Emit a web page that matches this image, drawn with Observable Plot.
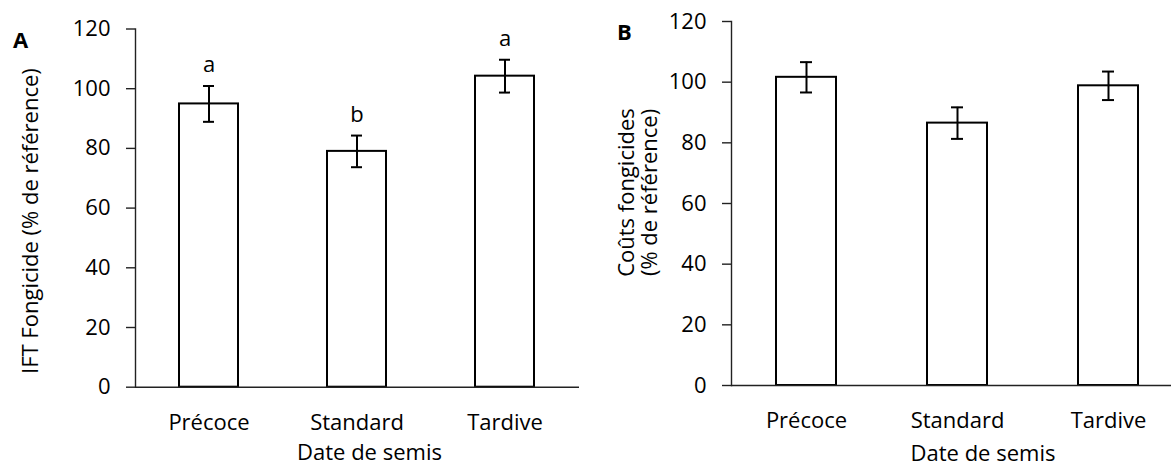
<!DOCTYPE html>
<html><head><meta charset="utf-8">
<script src="https://cdn.jsdelivr.net/npm/d3@7"></script>
<script src="https://cdn.jsdelivr.net/npm/@observablehq/plot@0.6"></script>
<style>
html,body{margin:0;padding:0;background:#fff;overflow:hidden;width:1171px;height:466px;position:relative;}
#a,#b{position:absolute;top:0;}
#a{left:0;} #b{left:585px;}
</style></head><body>
<div id="a"></div><div id="b"></div>
<script>
const categories = ["Précoce", "Standard", "Tardive"];
const iftMean = [94.9, 79.0, 104.2];
const iftErr = [6.0, 5.3, 5.5];
const iftLetters = ["a", "b", "a"];
const coutMean = [101.6, 86.5, 98.8];
const coutErr = [5.0, 5.2, 4.7];
const yTicks = [0, 20, 40, 60, 80, 100, 120];
const xTitle = "Date de semis";
const yTitleA = "IFT Fongicide (% de référence)";
const yTitleB = "Coûts fongicides\n(% de référence)";

const FONT = "'Open Sans', sans-serif";

function panel({means, errs, letters, tag, yTitle, width, mL, mT, mB, tagDx, tagDy, ytDx, ytDy, xtDx, xtDy}) {
  const data = categories.map((c, i) => ({cat: c, v: means[i], e: errs[i], l: letters ? letters[i] : ""}));
  const marks = [
    Plot.barY(data, {x: "cat", y: "v", fill: "white", stroke: "black", strokeWidth: 2}),
    Plot.ruleX(data, {x: "cat", y1: d => d.v - d.e, y2: d => d.v + d.e, stroke: "black", strokeWidth: 2}),
    Plot.tickY(data, {x: "cat", y: d => d.v + d.e, stroke: "black", strokeWidth: 2, insetLeft: 24, insetRight: 24}),
    Plot.tickY(data, {x: "cat", y: d => d.v - d.e, stroke: "black", strokeWidth: 2, insetLeft: 24, insetRight: 24}),
    Plot.ruleY([0], {stroke: "#222", strokeWidth: 1.4}),
    Plot.frame({anchor: "left", stroke: "#222", strokeWidth: 1.4}),
    Plot.axisY(yTicks, {tickSize: 9, tickPadding: 16, fontSize: 22, label: null, stroke: "#222", strokeWidth: 1.4}),
    Plot.axisX({tickSize: 0, tickPadding: 27, fontSize: 22, label: null}),
    Plot.text([xTitle], {frameAnchor: "bottom", textAnchor: "middle", lineAnchor: "bottom", dx: xtDx, dy: xtDy, fontSize: 22, fill: "black"}),
    Plot.text([yTitle], {frameAnchor: "left", textAnchor: "middle", lineAnchor: "middle", rotate: -90, dx: ytDx, dy: ytDy, fontSize: 22, lineHeight: 1.05, fill: "black"}),
    Plot.text([tag], {frameAnchor: "top-left", textAnchor: "middle", lineAnchor: "middle", dx: tagDx, dy: tagDy, fontSize: 22, fontWeight: "bold", fill: "black"})
  ];
  if (letters) {
    marks.push(Plot.text(data, {x: "cat", y: d => d.v + d.e, text: "l", lineAnchor: "bottom", dy: -14, fontSize: 22, fill: "black"}));
  }
  return Plot.plot({
    width, height: 466,
    marginLeft: mL, marginRight: 1, marginTop: mT, marginBottom: mB,
    x: {domain: categories, paddingInner: 0.6, paddingOuter: 0.3, axis: null},
    y: {domain: [0, 120], axis: null},
    style: {fontFamily: FONT, fontSize: "22px", color: "#000", background: "transparent", overflow: "visible", maxWidth: "none"},
    marks
  });
}

document.getElementById("a").append(panel({
  means: iftMean, errs: iftErr, letters: iftLetters, tag: "A", yTitle: yTitleA,
  width: 580, mL: 135, mT: 28.5, mB: 79.3,
  tagDx: -115, tagDy: 11.5, ytDx: -105, ytDy: 13, xtDx: 12, xtDy: 73
}));
document.getElementById("b").append(panel({
  means: coutMean, errs: coutErr, letters: null, tag: "B", yTitle: yTitleB,
  width: 600, mL: 146, mT: 21, mB: 81,
  tagDx: -107, tagDy: 11, ytDx: -93, ytDy: -11, xtDx: 25, xtDy: 75
}));
</script>
</body></html>
